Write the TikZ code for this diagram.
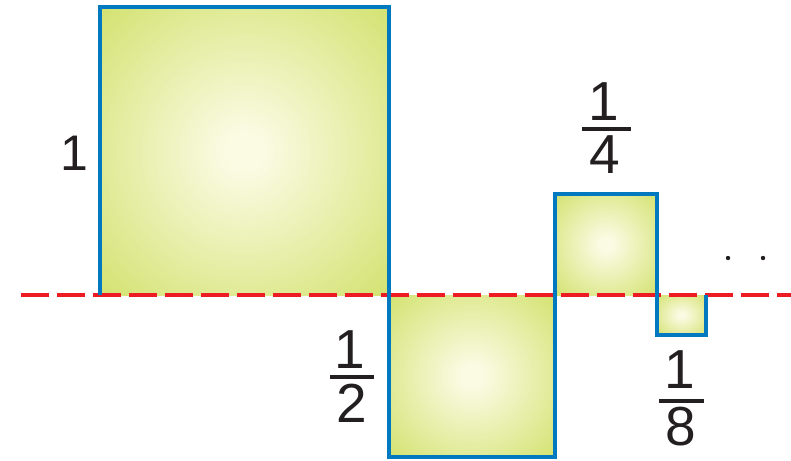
\documentclass[tikz,border=0pt]{standalone}
\usepackage{fontspec}
\setmainfont{Liberation Sans}
\definecolor{glowin}{RGB}{251,251,228}
\definecolor{glowout}{RGB}{188,212,46}
\definecolor{edgeblue}{RGB}{0,121,193}
\definecolor{axisred}{RGB}{237,28,36}
\definecolor{inkgray}{RGB}{35,31,32}
\pgfdeclareradialshading{sqglow}{\pgfpoint{0bp}{0bp}}{color(0bp)=(glowin); color(3bp)=(glowin); color(54bp)=(glowout); color(80bp)=(glowout)}
\tikzset{
  sq/.style={shading=sqglow},
  outline/.style={draw=edgeblue, line width=4pt, line join=miter},
  axisline/.style={draw=axisred, line width=4pt, dash pattern=on 28pt off 8pt},
  numlabel/.style={text=inkgray, inner sep=0pt, font=\fontsize{55}{60}\selectfont},
  biglabel/.style={text=inkgray, inner sep=0pt, font=\fontsize{50}{54}\selectfont},
  fracbar/.style={draw=inkgray, line width=4pt},
  dotmark/.style={fill=inkgray, draw=none}
}
\begin{document}
\begin{tikzpicture}[x=1pt, y=-1pt]
\useasboundingbox (0,0) rectangle (791,460);
% fills
\shade[sq] (100,7) rectangle (389,295);
\shade[sq] (389,295) rectangle (555,457);
\shade[sq] (555,194) rectangle (657,295);
\shade[sq] (657,295) rectangle (706,335);
% axis
\coordinate (axL) at (21,295);
\coordinate (axR) at (791,295);
\draw[axisline] (axL) -- (axR);
% outline
\draw[outline] (100,295) -- (100,7) -- (389,7) -- (389,457) -- (555,457)
  -- (555,194) -- (657,194) -- (657,335) -- (706,335) -- (706,295);
% labels
\node[biglabel] (one) at (74,153) {1};
\node[numlabel] (n4) at (604,102) {1};
\node[numlabel] (d4) at (605,155) {4};
\coordinate (b4l) at (582,129); \coordinate (b4r) at (631,129);
\draw[fracbar] (b4l) -- (b4r);
\node[numlabel] (n2) at (350,350) {1};
\node[numlabel] (d2) at (352,403) {2};
\coordinate (b2l) at (330,377); \coordinate (b2r) at (374,377);
\draw[fracbar] (b2l) -- (b2r);
\node[numlabel] (n8) at (680,370) {1};
\node[numlabel] (d8) at (681,427) {8};
\coordinate (b8l) at (659,401); \coordinate (b8r) at (704,401);
\draw[fracbar] (b8l) -- (b8r);
% dots
\fill[dotmark] (728,258) circle (2.2pt);
\fill[dotmark] (763,258) circle (2.2pt);
\end{tikzpicture}
\end{document}
